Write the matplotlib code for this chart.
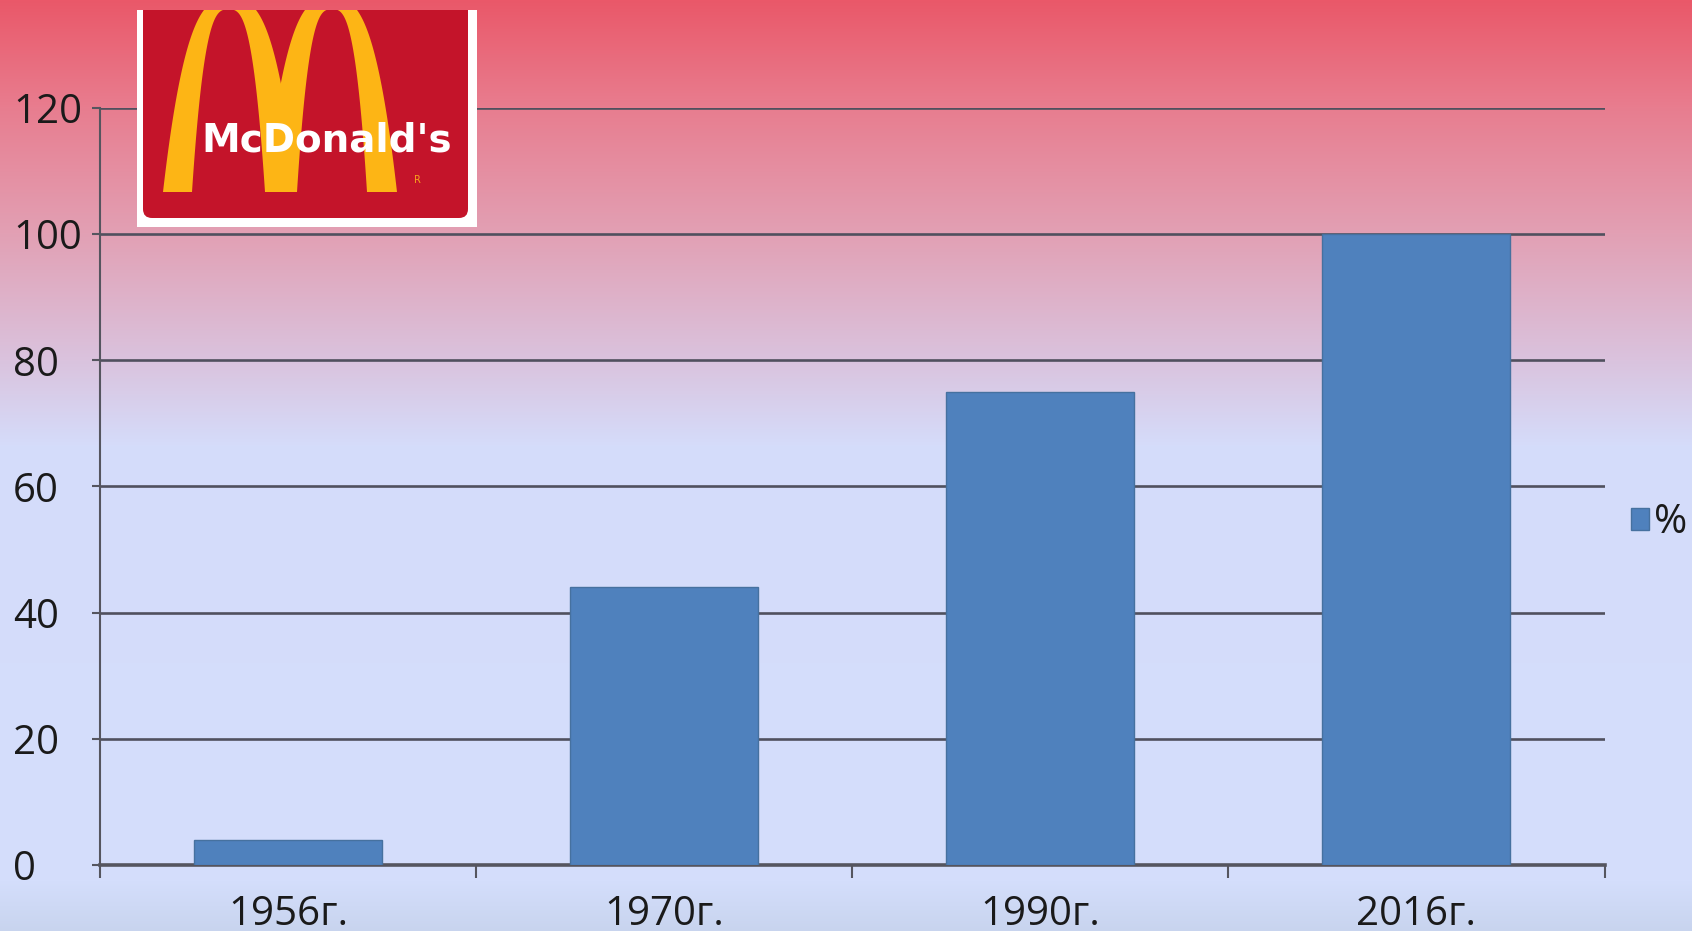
import numpy as np
import matplotlib
matplotlib.use("Agg")
import matplotlib.pyplot as plt
from matplotlib.patches import FancyBboxPatch, Polygon

# === DADOS ===
anos = ["1956г.", "1970г.", "1990г.", "2016г."]
valores = [4, 44, 75, 100]
serie = "%"
yticks = [0, 20, 40, 60, 80, 100, 120]

W, H = 1692, 931
fig = plt.figure(figsize=(W / 100, H / 100), dpi=100)

# === FUNDO EM DEGRADÊ ===
stops_y = [0, 107, 233, 360, 445, 880, 931]
stops_c = [(234, 88, 105), (232, 125, 143), (226, 160, 180), (218, 195, 222),
           (213, 220, 250), (212, 222, 252), (200, 212, 238)]
yy = np.arange(H)
grad = np.zeros((H, 1, 3))
for k in range(3):
    grad[:, 0, k] = np.interp(yy, stops_y, [c[k] for c in stops_c]) / 255
bg = fig.add_axes([0, 0, 1, 1], zorder=0)
bg.imshow(grad, aspect="auto", extent=[0, 1, 0, 1])
bg.axis("off")

# === GRÁFICO DE BARRAS ===
left, right, y0, y120 = 100.0, 1604.5, 865, 108
ax = fig.add_axes([left / W, 1 - y0 / H, (right - left) / W, (y0 - y120) / H], zorder=1)
ax.set_facecolor("none")
x = np.arange(len(anos))
ax.bar(x, valores, width=0.5, color="#4F81BD", edgecolor="#46719f", linewidth=1,
       label=serie, zorder=3)
ax.set_xlim(-0.5, len(anos) - 0.5)
ax.set_ylim(0, 120)
ax.set_yticks(yticks)
ax.yaxis.grid(True, color="#50505e", linewidth=1.9, zorder=0)
ax.set_axisbelow(True)

for s in ["top", "right"]:
    ax.spines[s].set_visible(False)
ax.spines["left"].set_color("#55555f")
ax.spines["left"].set_linewidth(1.5)
ax.spines["bottom"].set_color("#55555f")
ax.spines["bottom"].set_linewidth(2.6)

fonte = "Open Sans"
tam = 29
ax.set_xticks(x)
ax.set_xticklabels(anos, fontsize=tam, family=fonte, color="#1a1a1a")
ax.set_xticks(np.arange(len(anos) + 1) - 0.5, minor=True)
ax.tick_params(axis="x", which="major", length=0, pad=21)
ax.tick_params(axis="x", which="minor", length=9, width=1.5, color="#55555f")
# rótulos do eixo y alinhados à esquerda (começam em x≈13 px)
ax.tick_params(axis="y", length=6, width=1.5, color="#55555f", pad=(left - 13) * 0.72 - 6)
for t in ax.get_yticklabels():
    t.set_fontsize(tam)
    t.set_family(fonte)
    t.set_color("#1a1a1a")
    t.set_horizontalalignment("left")

leg = ax.legend(loc="center left", bbox_to_anchor=(1631 / W, 1 - 523 / H),
                bbox_transform=fig.transFigure, frameon=False, borderpad=0,
                borderaxespad=0, handlelength=0.45, handleheight=0.45,
                handletextpad=0.12, prop={"family": fonte, "size": tam})
for t in leg.get_texts():
    t.set_color("#1a1a1a")

# === LOGOTIPO ===
lx0, lx1, ly0, ly1 = 137, 477, 10, 227
lg = fig.add_axes([lx0 / W, 1 - ly1 / H, (lx1 - lx0) / W, (ly1 - ly0) / H], zorder=2)
lg.set_xlim(lx0, lx1)
lg.set_ylim(ly1, ly0)
lg.set_facecolor("white")
lg.set_xticks([])
lg.set_yticks([])
for s in lg.spines.values():
    s.set_visible(False)
lg.add_patch(FancyBboxPatch((143, -30), 325, 248, boxstyle="round,pad=0,rounding_size=9",
                            facecolor="#C4142A", edgecolor="none"))


def curva(c, h, w_topo, x, n=3.0, pe=192, topo=10):
    # curva y = p + a|x-c|^n que passa por (c±h, pe) e (c±w_topo, topo)
    a = (pe - topo) / (h ** n - w_topo ** n)
    p = topo - a * w_topo ** n
    return p + a * np.abs(x - c) ** n


def arco(xa, xb, xc, xd, w_ext, w_int):
    c1, h1 = (xa + xd) / 2, (xd - xa) / 2
    c2, h2 = (xb + xc) / 2, (xc - xb) / 2
    xo = np.linspace(xa, xd, 150)
    xi = np.linspace(xc, xb, 150)
    pts = np.vstack([np.column_stack([xo, curva(c1, h1, w_ext, xo)]),
                     np.column_stack([xi, curva(c2, h2, w_int, xi)])])
    return Polygon(pts, closed=True, facecolor="#FDB515", edgecolor="none")


lg.add_patch(arco(163, 192, 265, 297, 26, 5.5))
lg.add_patch(arco(265, 297, 367, 397, 26, 5.5))
lg.text(327, 140, "McDonald's", ha="center", va="center", color="white",
        fontsize=28, fontweight="bold", family="DejaVu Sans")
lg.text(417, 180, "R", ha="center", va="center", color="#F7A21B", fontsize=7)

fig.savefig("out.png", dpi=100)
